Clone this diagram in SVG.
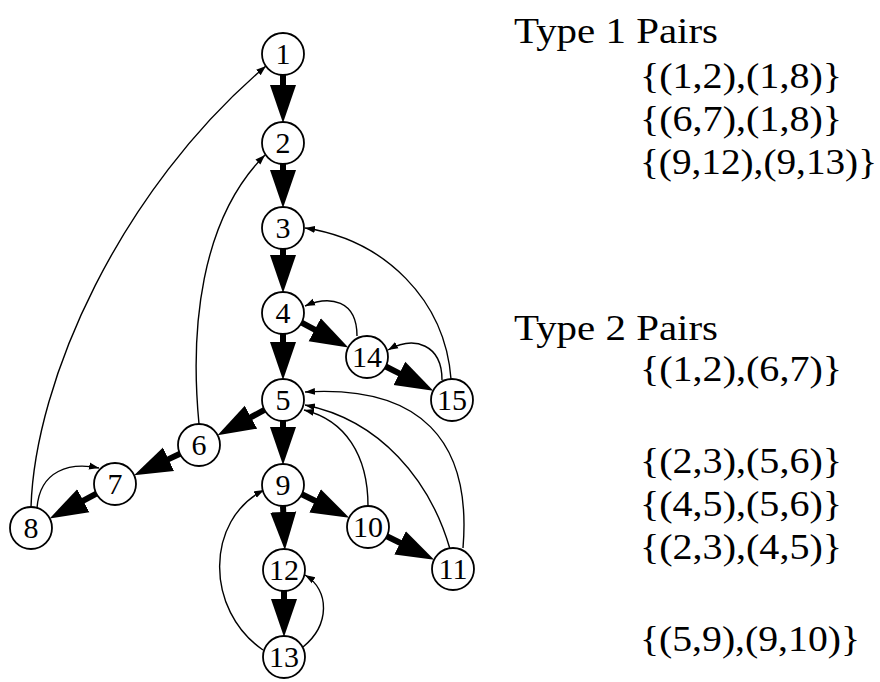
<svg xmlns="http://www.w3.org/2000/svg" width="880" height="682" viewBox="0 0 880 682">
  <defs>
    <style>
      .node circle { fill: #fff; stroke: #000; stroke-width: 1.8; }
      .node text { font-family: "Liberation Serif", "Times New Roman", serif; font-size: 30px; text-anchor: middle; fill: #000; }
      .tree { stroke: #000; stroke-width: 6; fill: none; marker-end: url(#bigHead); }
      .back { stroke: #000; stroke-width: 1.4; fill: none; marker-end: url(#smallHead); }
      .label { font-family: "Liberation Serif", "Times New Roman", serif; font-size: 36px; fill: #000; }
    </style>
    <marker id="bigHead" markerUnits="userSpaceOnUse" markerWidth="42" markerHeight="30" viewBox="0 -15 42 30" refX="1" refY="0" orient="auto">
      <path d="M0,-13 L38,0 L0,13 z" fill="#000"/>
    </marker>
    <marker id="smallHead" markerUnits="userSpaceOnUse" markerWidth="12" markerHeight="10" viewBox="0 -5 12 10" refX="10" refY="0" orient="auto">
      <path d="M0,-3.5 L10,0 L0,3.5 z" fill="#000"/>
    </marker>
  </defs>

  <!-- connectors: thick tree edges and thin back edges -->
  <g id="connectors">
    <line class="tree" x1="283" y1="75" x2="283" y2="86"/>
    <line class="tree" x1="283" y1="164" x2="283" y2="171"/>
    <line class="tree" x1="283" y1="249" x2="283" y2="256"/>
    <line class="tree" x1="283" y1="334" x2="283" y2="343"/>
    <line class="tree" x1="283" y1="421" x2="283" y2="428"/>
    <line class="tree" x1="283" y1="506" x2="283.3" y2="513"/>
    <line class="tree" x1="284" y1="591" x2="284" y2="600"/>
    <line class="tree" x1="301.6" y1="322.7" x2="315.6" y2="330.1"/>
    <line class="tree" x1="385.7" y1="366.5" x2="400.3" y2="373.9"/>
    <line class="tree" x1="264.5" y1="409.9" x2="250.1" y2="417.7"/>
    <line class="tree" x1="180.0" y1="453.8" x2="167.6" y2="459.6"/>
    <line class="tree" x1="96.4" y1="493.7" x2="82.4" y2="501.1"/>
    <line class="tree" x1="301.8" y1="494.3" x2="316.0" y2="501.3"/>
    <line class="tree" x1="386.8" y1="536.3" x2="401.0" y2="543.3"/>

    <path class="back" d="M31,507 C35,380 120,190 266,66"/>
    <path class="back" d="M199,424 C190,330 200,220 265,155"/>
    <path class="back" d="M451,379 C445,300 385,240 305,228"/>
    <path class="back" d="M357,336 C357,300 330,295 305,306"/>
    <path class="back" d="M442,380 C442,345 415,335 388,350"/>
    <path class="back" d="M37,508 C40,470 70,462 99,468"/>
    <path class="back" d="M303,647 C330,625 330,590 305,575"/>
    <path class="back" d="M263,650 C205,610 205,520 264,490"/>
    <path class="back" d="M368,506 C368,455 345,420 304,410"/>
    <path class="back" d="M450,549 C430,480 380,420 305,405"/>
    <path class="back" d="M463,548 C472,440 420,385 305,392"/>
  </g>

  <g id="n1" class="node"><circle cx="283" cy="54" r="21"/><text x="283" y="64">1</text></g>
  <g id="n2" class="node"><circle cx="283" cy="143" r="21"/><text x="283" y="153">2</text></g>
  <g id="n3" class="node"><circle cx="283" cy="228" r="21"/><text x="283" y="238">3</text></g>
  <g id="n4" class="node"><circle cx="283" cy="313" r="21"/><text x="283" y="323">4</text></g>
  <g id="n5" class="node"><circle cx="283" cy="400" r="21"/><text x="283" y="410">5</text></g>
  <g id="n6" class="node"><circle cx="199" cy="445" r="21"/><text x="199" y="455">6</text></g>
  <g id="n7" class="node"><circle cx="115" cy="484" r="21"/><text x="115" y="494">7</text></g>
  <g id="n8" class="node"><circle cx="31" cy="528" r="21"/><text x="31" y="538">8</text></g>
  <g id="n9" class="node"><circle cx="283" cy="485" r="21"/><text x="283" y="495">9</text></g>
  <g id="n10" class="node"><circle cx="368" cy="527" r="21"/><text x="368" y="537">10</text></g>
  <g id="n11" class="node"><circle cx="453" cy="569" r="21"/><text x="453" y="579">11</text></g>
  <g id="n12" class="node"><circle cx="284" cy="570" r="21"/><text x="284" y="580">12</text></g>
  <g id="n13" class="node"><circle cx="284" cy="657" r="21"/><text x="284" y="667">13</text></g>
  <g id="n14" class="node"><circle cx="367" cy="357" r="21"/><text x="367" y="367">14</text></g>
  <g id="n15" class="node"><circle cx="452" cy="400" r="21"/><text x="452" y="410">15</text></g>

  <!-- pair listings -->
  <g id="pairs">
    <text class="label" x="514" y="43" textLength="204" lengthAdjust="spacingAndGlyphs">Type 1 Pairs</text>
    <text class="label" x="640" y="88" textLength="202" lengthAdjust="spacingAndGlyphs">{(1,2),(1,8)}</text>
    <text class="label" x="640" y="131" textLength="202" lengthAdjust="spacingAndGlyphs">{(6,7),(1,8)}</text>
    <text class="label" x="640" y="174" textLength="237" lengthAdjust="spacingAndGlyphs">{(9,12),(9,13)}</text>
    <text class="label" x="514" y="340" textLength="204" lengthAdjust="spacingAndGlyphs">Type 2 Pairs</text>
    <text class="label" x="640" y="381" textLength="202" lengthAdjust="spacingAndGlyphs">{(1,2),(6,7)}</text>
    <text class="label" x="640" y="473" textLength="202" lengthAdjust="spacingAndGlyphs">{(2,3),(5,6)}</text>
    <text class="label" x="640" y="516" textLength="202" lengthAdjust="spacingAndGlyphs">{(4,5),(5,6)}</text>
    <text class="label" x="640" y="559" textLength="202" lengthAdjust="spacingAndGlyphs">{(2,3),(4,5)}</text>
    <text class="label" x="640" y="651" textLength="220" lengthAdjust="spacingAndGlyphs">{(5,9),(9,10)}</text>
  </g>
</svg>
